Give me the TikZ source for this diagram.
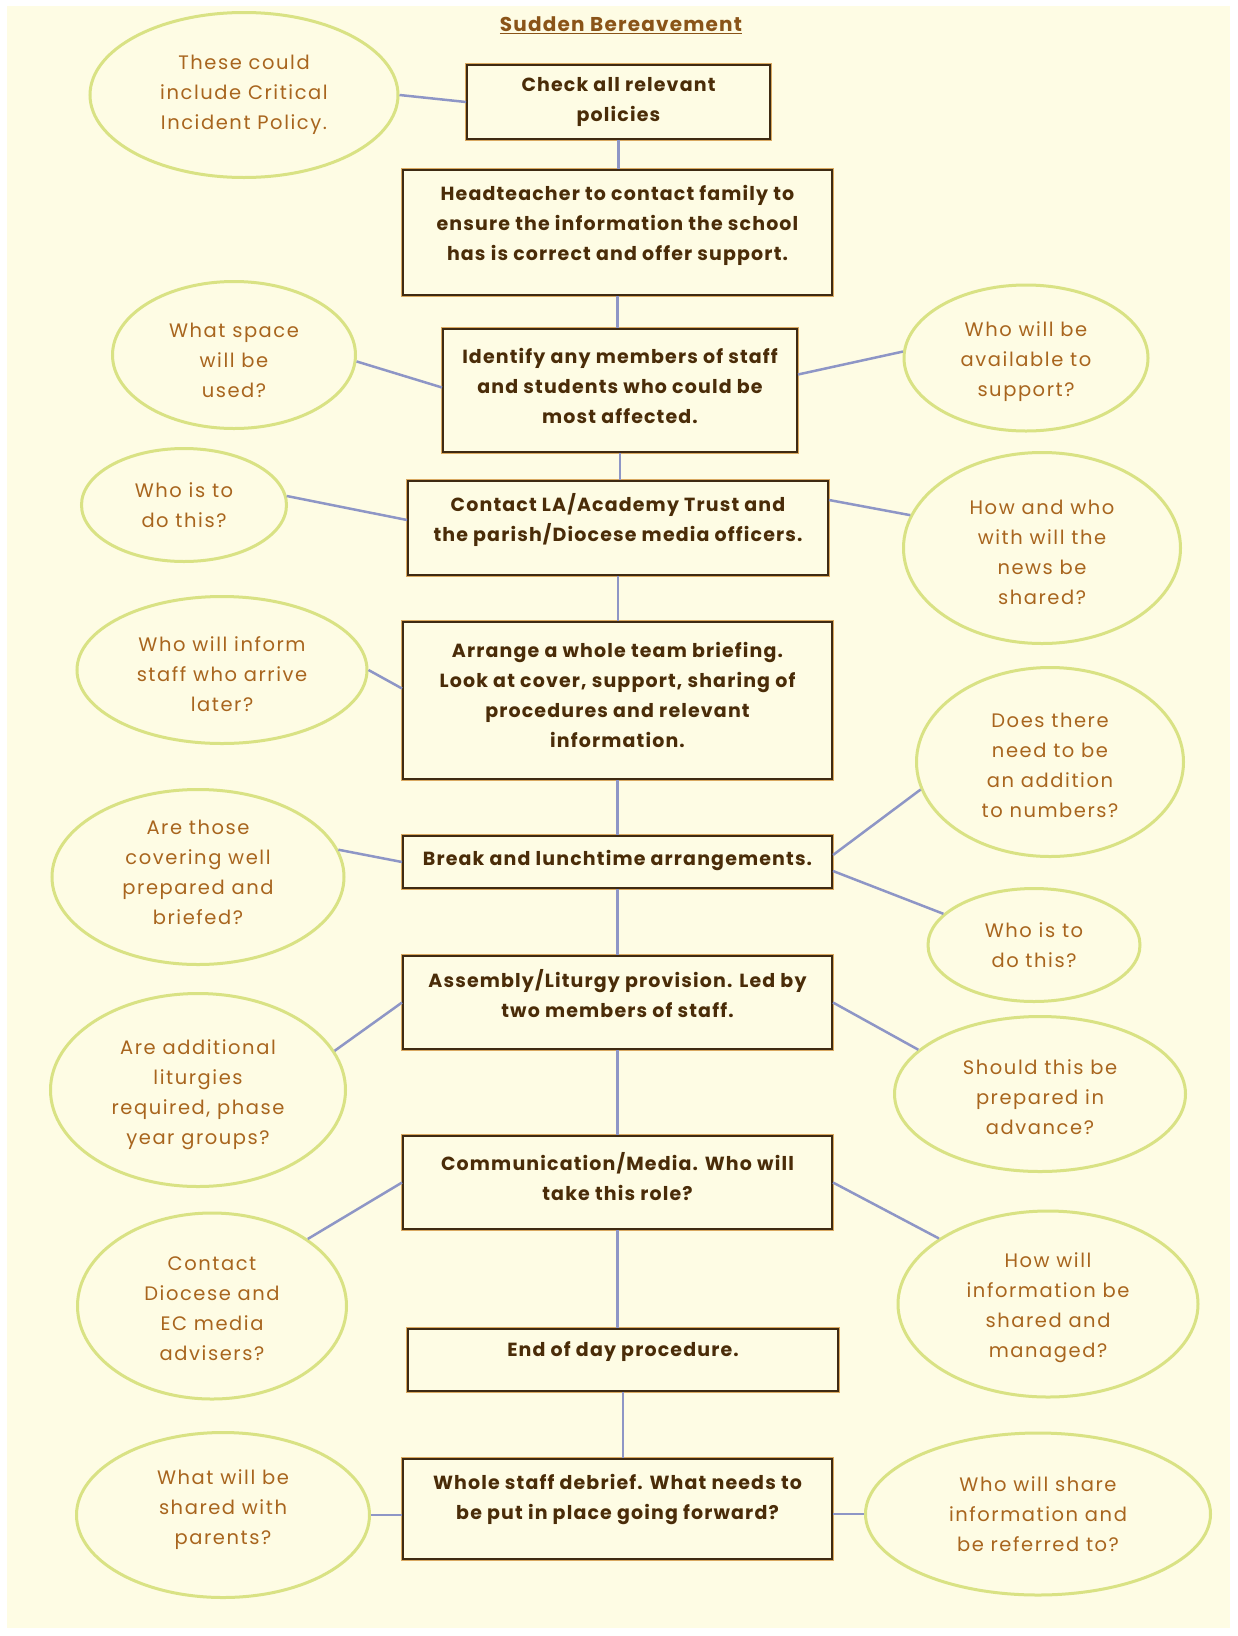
\documentclass[tikz,border=0pt]{standalone}
\usepackage{fontspec}
\setmainfont{Poppins}[LetterSpace=6]
\usetikzlibrary{shapes.geometric,calc}
\definecolor{bg}{HTML}{FEFCE4}
\definecolor{boxline}{HTML}{3E2A12}
\definecolor{boxglow}{HTML}{D9A860}
\definecolor{ellline}{HTML}{D9E284}
\definecolor{conn}{HTML}{8E96C6}
\definecolor{boxtext}{HTML}{4A2C08}
\definecolor{elltext}{HTML}{A8651E}
\definecolor{titletext}{HTML}{8A5418}
\begin{document}
\begin{tikzpicture}[x=1pt,y=-1pt,
  stepbox/.style={rectangle, draw=boxline, line width=2pt, fill=bg, inner sep=0pt,
    preaction={draw=boxglow, line width=4.5pt}},
  boxtxt/.style={font=\bfseries\fontsize{19}{30}\selectfont, text=boxtext, align=center, inner sep=0pt},
  note/.style={ellipse, draw=ellline, line width=3pt, fill=bg, inner sep=0pt},
  notetxt/.style={font=\fontsize{19.5}{30}\selectfont\addfontfeature{LetterSpace=8}, text=elltext, align=center, inner sep=0pt},
  conn/.style={draw=conn, line width=2.5pt}]
\useasboundingbox (0,0) rectangle (1238,1636);
\fill[white] (0,0) rectangle (1238,1636);
\fill[bg] (7,6) rectangle (1230,1628);

% title
\node[font=\bfseries\fontsize{20}{24}\selectfont, text=titletext, inner sep=0pt] (title) at (621,25) {\underline{Sudden Bereavement}};

% boxes
\node[stepbox, minimum width=303, minimum height=74] (b1) at (618.5,102) {};
\node[stepbox, minimum width=429, minimum height=125] (b2) at (617.5,232.5) {};
\node[stepbox, minimum width=354, minimum height=123] (b3) at (620,390.5) {};
\node[stepbox, minimum width=420, minimum height=94] (b4) at (618,528) {};
\node[stepbox, minimum width=429, minimum height=157] (b5) at (617.5,700.5) {};
\node[stepbox, minimum width=429, minimum height=52] (b6) at (617.5,862) {};
\node[stepbox, minimum width=429, minimum height=93] (b7) at (617.5,1002.5) {};
\node[stepbox, minimum width=429, minimum height=93] (b8) at (617.5,1182.5) {};
\node[stepbox, minimum width=430, minimum height=62] (b9) at (623,1360) {};
\node[stepbox, minimum width=429, minimum height=100] (b10) at (617.5,1509) {};

\node[boxtxt] (t1) at ($(b1)+(0,0)$) {Check all relevant\\policies};
\node[boxtxt] (t2) at ($(b2)+(0,-7)$) {Headteacher to contact family to\\ensure the information the school\\has is correct and offer support.};
\node[boxtxt] (t3) at ($(b3)+(0,-5)$) {Identify any members of staff\\and students who could be\\most affected.};
\node[boxtxt] (t4) at ($(b4)+(0,-8)$) {Contact LA/Academy Trust and\\the parish/Diocese media officers.};
\node[boxtxt] (t5) at ($(b5)+(0,-6)$) {Arrange a whole team briefing.\\Look at cover, support, sharing of\\procedures and relevant\\information.};
\node[boxtxt] (t6) at ($(b6)+(0,-2)$) {Break and lunchtime arrangements.};
\node[boxtxt] (t7) at ($(b7)+(0,-9)$) {Assembly/Liturgy provision. Led by\\two members of staff.};
\node[boxtxt] (t8) at ($(b8)+(0,-6)$) {Communication/Media. Who will\\take this role?};
\node[boxtxt] (t9) at ($(b9)+(0,-8)$) {End of day procedure.};
\node[boxtxt] (t10) at ($(b10)+(0,-10)$) {Whole staff debrief. What needs to\\be put in place going forward?};

% ellipses
\node[note, minimum width=308, minimum height=165] (e1) at (244,95) {};
\node[note, minimum width=243, minimum height=147] (e2) at (234,355) {};
\node[note, minimum width=244, minimum height=146] (e3) at (1026,358) {};
\node[note, minimum width=205, minimum height=113] (e4) at (184,505) {};
\node[note, minimum width=277, minimum height=191] (e10) at (1042,548) {};
\node[note, minimum width=290, minimum height=147] (e5) at (222,670) {};
\node[note, minimum width=267, minimum height=189] (e11) at (1050,762) {};
\node[note, minimum width=292, minimum height=175] (e6) at (198,877) {};
\node[note, minimum width=212, minimum height=113] (e12) at (1034,945) {};
\node[note, minimum width=295, minimum height=193] (e7) at (198,1090) {};
\node[note, minimum width=291, minimum height=155] (e13) at (1040,1094) {};
\node[note, minimum width=269, minimum height=186] (e8) at (212,1306) {};
\node[note, minimum width=300, minimum height=186] (e14) at (1048,1304) {};
\node[note, minimum width=293, minimum height=165] (e9) at (223,1515) {};
\node[note, minimum width=345, minimum height=162] (e15) at (1038,1514) {};

\node[notetxt] (n1) at (e1) {These could\\include Critical\\Incident Policy.};
\node[notetxt] (n2) at ($(e2)+(0,5)$) {What space\\will be\\used?};
\node[notetxt] (n3) at ($(e3)+(0,4)$) {Who will be\\available to\\support?};
\node[notetxt] (n4) at (e4) {Who is to\\do this?};
\node[notetxt] (n10) at ($(e10)+(0,4)$) {How and who\\with will the\\news be\\shared?};
\node[notetxt] (n5) at ($(e5)+(0,4)$) {Who will inform\\staff who arrive\\later?};
\node[notetxt] (n11) at ($(e11)+(0,3)$) {Does there\\need to be\\an addition\\to numbers?};
\node[notetxt] (n6) at ($(e6)+(0,-5)$) {Are those\\covering well\\prepared and\\briefed?};
\node[notetxt] (n12) at (e12) {Who is to\\do this?};
\node[notetxt] (n7) at ($(e7)+(0,5)$) {Are additional\\liturgies\\required, phase\\year groups?};
\node[notetxt] (n13) at ($(e13)+(0,3)$) {Should this be\\prepared in\\advance?};
\node[notetxt] (n8) at ($(e8)+(0,3)$) {Contact\\Diocese and\\EC media\\advisers?};
\node[notetxt] (n14) at ($(e14)+(0,4)$) {How will\\information be\\shared and\\managed?};
\node[notetxt] (n9) at ($(e9)+(0,-5)$) {What will be\\shared with\\parents?};
\node[notetxt] (n15) at (e15) {Who will share\\information and\\be referred to?};

% vertical flow connectors
\foreach \a/\b in {b1/b2,b2/b3,b3/b4,b4/b5,b5/b6,b6/b7,b7/b8,b8/b9,b9/b10}
  \draw[conn] (\a.south) -- (\a.south |- \b.north);

% side connectors
\draw[conn] (e1.east) -- (b1.west);
\draw[conn] (e2.-3) -- ($(b3.west)+(0,-3)$);
\draw[conn] ($(b3.east)+(0,-16)$) -- (e3.177);
\draw[conn] (e4.5) -- ($(b4.west)+(0,-8)$);
\draw[conn] ($(b4.east)+(0,-28)$) -- (e10.166);
\draw[conn] (e5.east) -- ($(b5.west)+(0,-12)$);
\draw[conn] (e6.11) -- (b6.west);
\draw[conn] ($(b6.east)+(0,-7)$) -- (e11.192);
\draw[conn] ($(b6.east)+(0,9)$) -- (e12.161);
\draw[conn] (e7.16) -- (b7.west);
\draw[conn] (b7.east) -- (e13.160);
\draw[conn] (e8.35) -- (b8.west);
\draw[conn] (b8.east) -- (e14.149);
\draw[conn] (e9.east) -- (e9.east -| b10.west);
\draw[conn] (b10.east |- e15.west) -- (e15.west);
\end{tikzpicture}
\end{document}
